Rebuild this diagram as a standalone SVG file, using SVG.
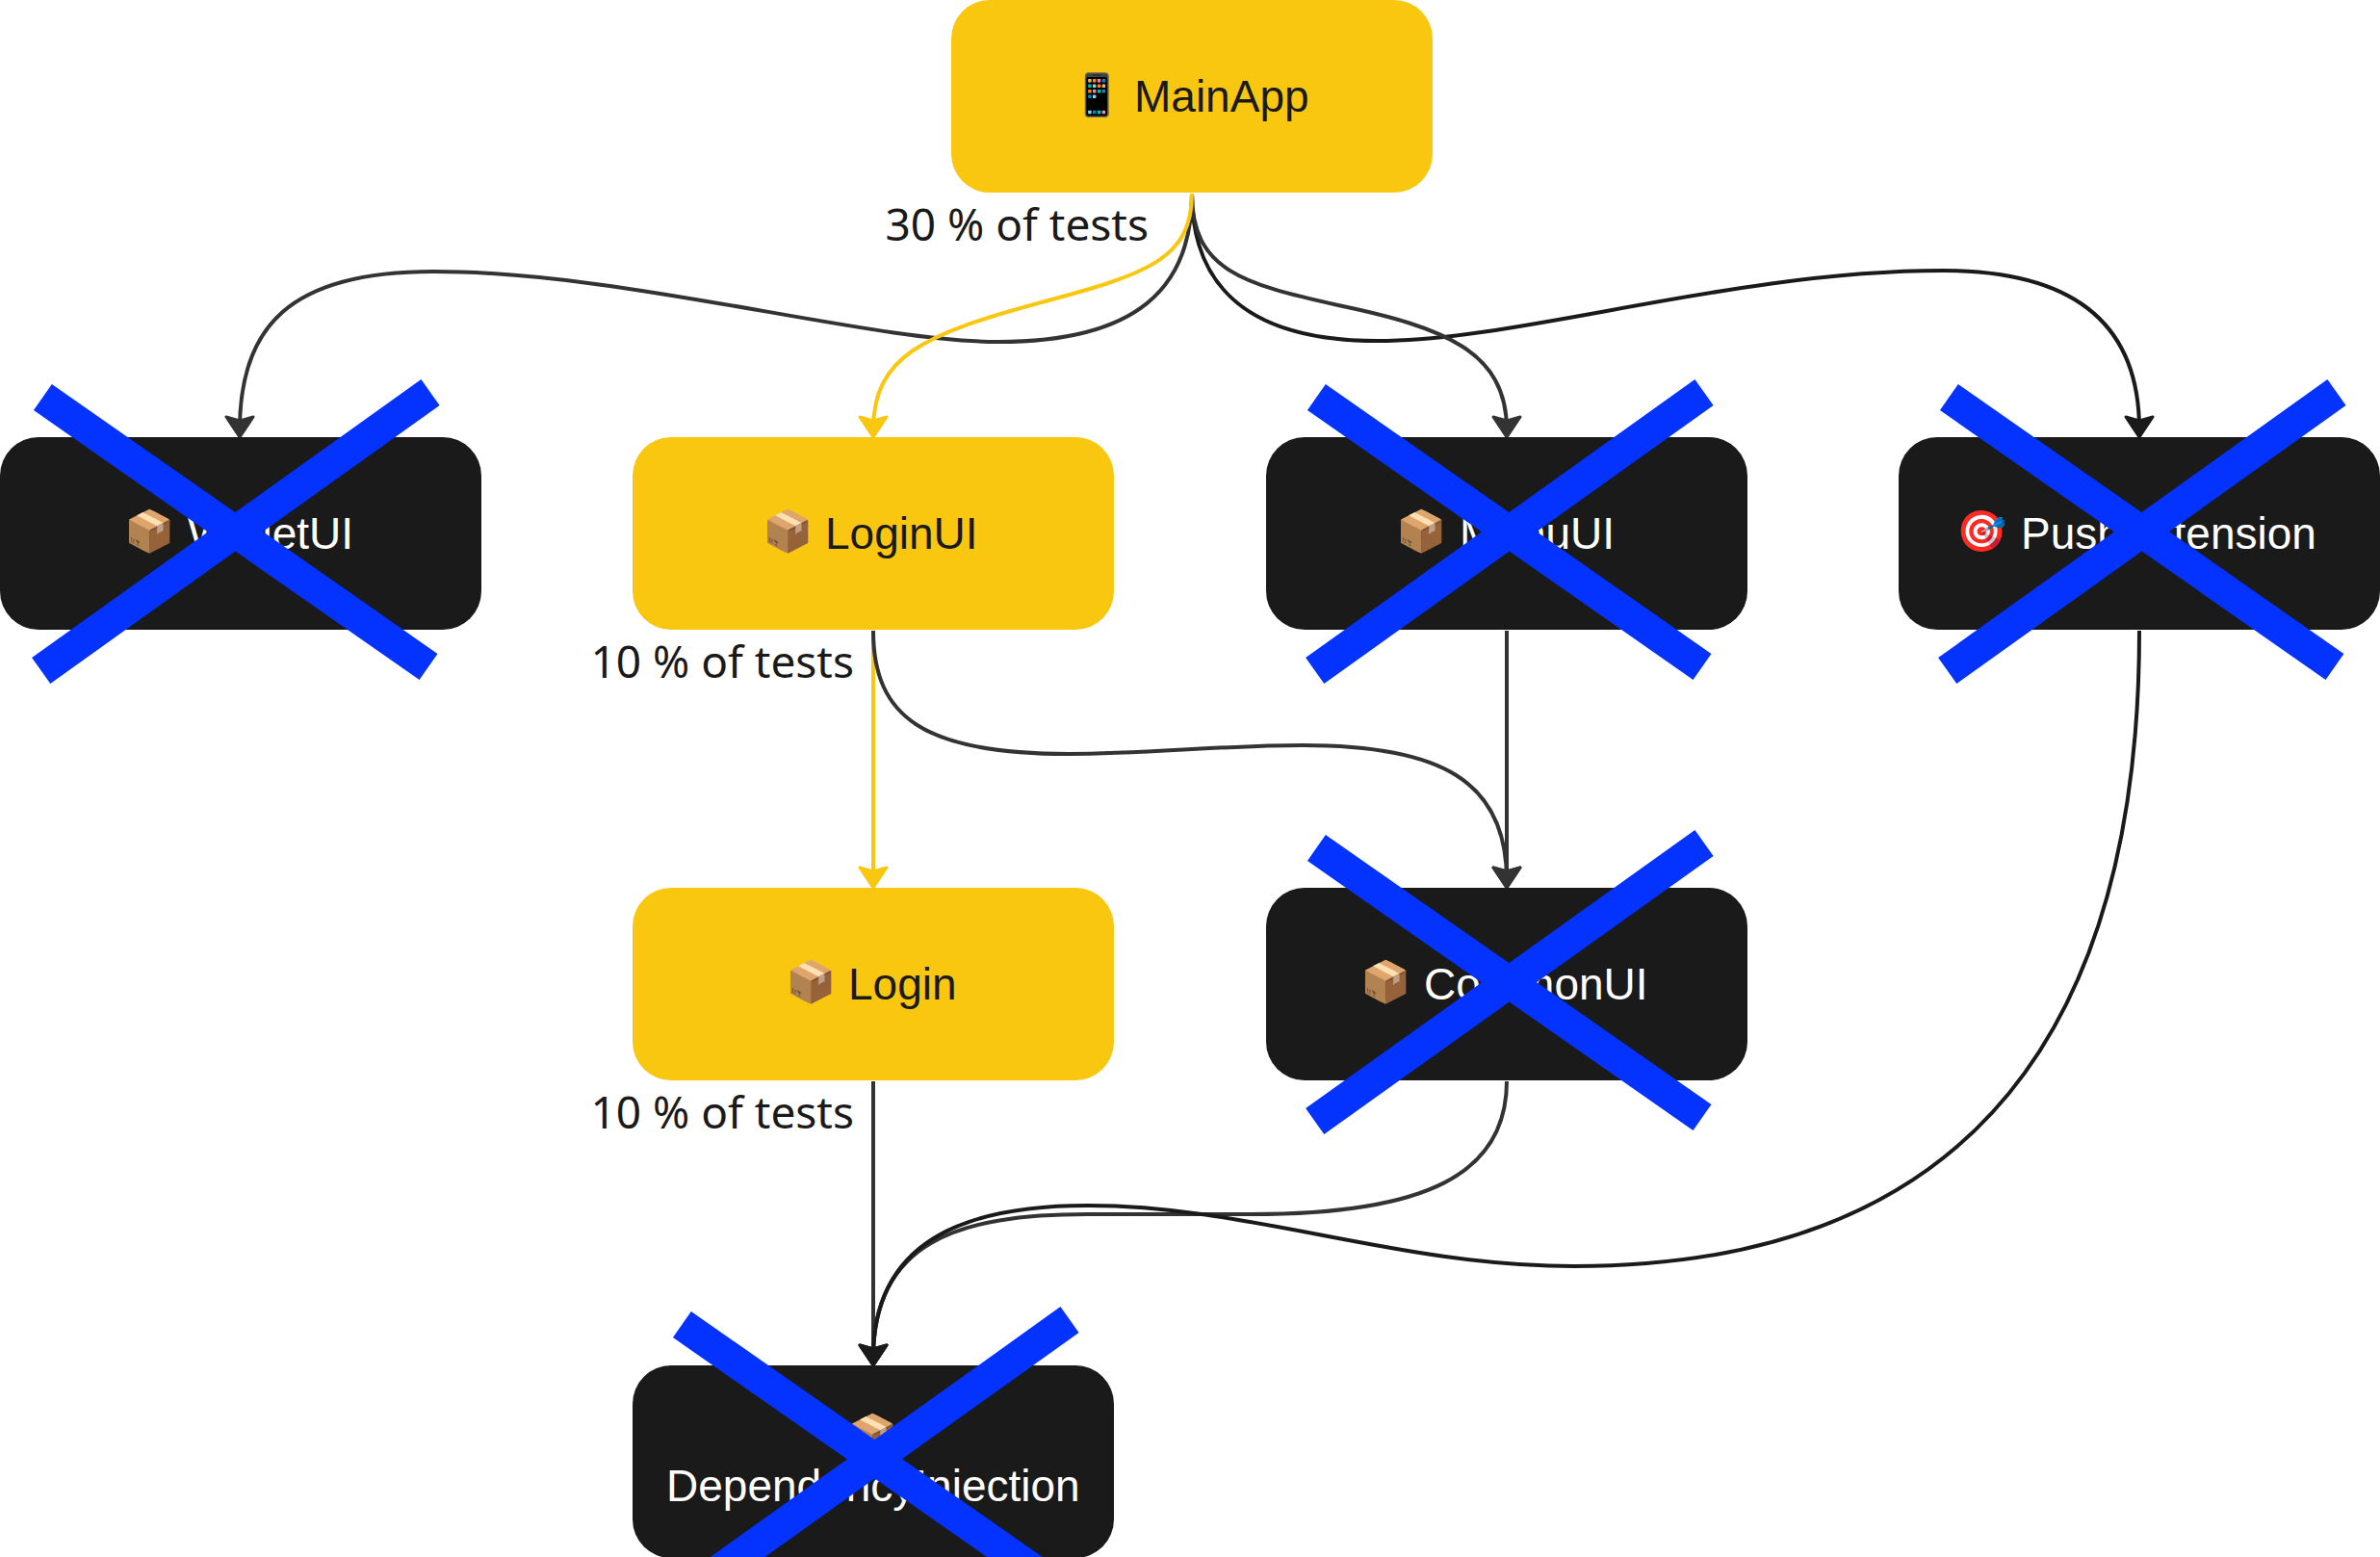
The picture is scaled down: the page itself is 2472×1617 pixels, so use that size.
<svg xmlns="http://www.w3.org/2000/svg" width="2472" height="1617" viewBox="0 0 2472 1617">
<style>
.y{fill:#fac710}.k{fill:#1a1a1a}
.nt{font-family:"Liberation Sans",Arial,sans-serif;font-size:46px}
.em{font-family:"Noto Color Emoji","Liberation Sans",sans-serif;font-size:42px;text-anchor:middle}
.dk{fill:#1a1a1a}.wh{fill:#fff}
.lb{font-family:"Noto Sans",sans-serif;font-size:46px;fill:#1a1a1a;text-anchor:end}
.c{fill:none;stroke-width:4}
.x{stroke:#0433ff;stroke-width:33;fill:none}
</style>
<defs>
<marker id="ay" markerUnits="userSpaceOnUse" markerWidth="30" markerHeight="34" viewBox="0 0 30 34" refX="15" refY="17" orient="auto"><path d="M2,3 L23,17 L2,31 L6,17 Z" fill="#fac710" stroke="#fac710" stroke-width="3" stroke-linejoin="round"/></marker>
<marker id="ag" markerUnits="userSpaceOnUse" markerWidth="30" markerHeight="34" viewBox="0 0 30 34" refX="15" refY="17" orient="auto"><path d="M2,3 L23,17 L2,31 L6,17 Z" fill="#333" stroke="#333" stroke-width="3" stroke-linejoin="round"/></marker>
<marker id="ak" markerUnits="userSpaceOnUse" markerWidth="30" markerHeight="34" viewBox="0 0 30 34" refX="15" refY="17" orient="auto"><path d="M2,3 L23,17 L2,31 L6,17 Z" fill="#1a1a1a" stroke="#1a1a1a" stroke-width="3" stroke-linejoin="round"/></marker>
<g id="cross"><path class="x" d="M44.4,412.5 L445,692.5"/><path class="x" d="M42.7,696.5 L447,407.5"/></g>
</defs>
<g id="connectors">
<path class="c" stroke="#333" marker-end="url(#ag)" d="M1238,201 C1238,300 1180,355 1037,355 C900,355 650,282 450,282 C300,282 249,340 249,446"/>
<path class="c" stroke="#1a1a1a" marker-end="url(#ak)" d="M1238,201 C1238,300 1300,354 1431,354 C1580,354 1800,281 2018,281 C2170,281 2222,350 2222,446"/>
<path class="c" stroke="#333" marker-end="url(#ag)" d="M1238,201 C1238,280 1290,295 1390,317 C1500,340 1565,365 1565,446"/>
<path class="c" stroke="#fac710" marker-end="url(#ay)" d="M1238,201 C1238,270 1190,285 1078,315 C960,347 907,370 907,446"/>
<path class="c" stroke="#fac710" marker-end="url(#ay)" d="M907,655 L907,914"/>
<path class="c" stroke="#333" marker-end="url(#ag)" d="M907,655 C907,745 960,783 1110,783 C1190,783 1270,774 1353,774 C1495,774 1565,810 1565,914"/>
<path class="c" stroke="#333" marker-end="url(#ag)" d="M1565,655 L1565,914"/>
<path class="c" stroke="#333" marker-end="url(#ag)" d="M907,1123 L907,1410"/>
<path class="c" stroke="#333" marker-end="url(#ag)" d="M1565,1123 C1565,1220 1480,1261 1300,1261 L1130,1261 C995,1261 907,1290 907,1410"/>
<path class="c" stroke="#1a1a1a" marker-end="url(#ak)" d="M2222,655 C2222,1000 2100,1315 1635,1315 C1450,1315 1300,1252 1130,1252 C1000,1252 907,1290 907,1410"/>
</g>
<g id="MainApp"><rect class="y" x="988" y="0" width="500" height="200" rx="40"/><text class="em dk" x="1140" y="113">📱</text><text class="nt dk" x="1178" y="116">MainApp</text></g>
<g id="WalletUI"><rect class="k" x="0" y="454" width="500" height="200" rx="40"/><text class="em wh" x="156" y="566">📦</text><text class="nt wh" x="195" y="570">WalletUI</text></g>
<g id="LoginUI"><rect class="y" x="657" y="454" width="500" height="200" rx="40"/><text class="em dk" x="819" y="566">📦</text><text class="nt dk" x="857" y="570">LoginUI</text></g>
<g id="MenuUI"><rect class="k" x="1315" y="454" width="500" height="200" rx="40"/><text class="em wh" x="1477" y="566">📦</text><text class="nt wh" x="1516" y="570">MenuUI</text></g>
<g id="PushExtension"><rect class="k" x="1972" y="454" width="500" height="200" rx="40"/><text class="em wh" x="2059" y="566">🎯</text><text class="nt wh" x="2099" y="570">PushExtension</text></g>
<g id="Login"><rect class="y" x="657" y="922" width="500" height="200" rx="40"/><text class="em dk" x="843" y="1034">📦</text><text class="nt dk" x="881" y="1038">Login</text></g>
<g id="CommonUI"><rect class="k" x="1315" y="922" width="500" height="200" rx="40"/><text class="em wh" x="1440" y="1034">📦</text><text class="nt wh" x="1479" y="1038">CommonUI</text></g>
<g id="DependencyInjection"><rect class="k" x="657" y="1418" width="500" height="200" rx="40"/><text class="em wh" x="906.5" y="1505">📦</text><text class="nt wh" x="692" y="1559">DependencyInjection</text></g>
<g id="labels">
<text class="lb" x="1193" y="250">30 % of tests</text>
<text class="lb" x="887" y="704">10 % of tests</text>
<text class="lb" x="887" y="1172">10 % of tests</text>
</g>
<g id="crosses">
<use href="#cross"/>
<use href="#cross" x="1323"/>
<use href="#cross" x="1980"/>
<use href="#cross" x="1323" y="468"/>
<use href="#cross" x="664" y="963"/>
</g>
</svg>
